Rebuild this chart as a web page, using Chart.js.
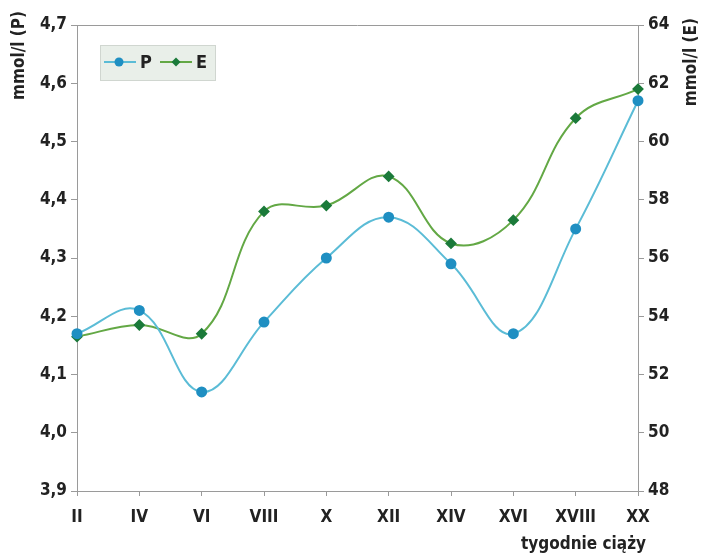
<!DOCTYPE html>
<html>
<head>
<meta charset="utf-8">
<script src="https://cdn.jsdelivr.net/npm/chart.js@4/dist/chart.umd.min.js"></script>
<style>
  html, body { margin: 0; padding: 0; background: #fff; }
  #wrap { width: 701px; height: 554px; position: relative; }
</style>
</head>
<body>
<div id="wrap"><canvas id="chart" width="701" height="554"></canvas></div>
<script>
  "use strict";

  var weeks = ['II', 'IV', 'VI', 'VIII', 'X', 'XII', 'XIV', 'XVI', 'XVIII', 'XX'];
  // P (mmol/l), lewa oś
  var valuesP = [4.17, 4.21, 4.07, 4.19, 4.30, 4.37, 4.29, 4.17, 4.35, 4.57];
  // E (mmol/l), prawa oś
  var valuesE = [53.3, 53.7, 53.4, 57.6, 57.8, 58.8, 56.5, 57.3, 60.8, 61.8];

  var FONT = "'Liberation Sans Narrow', 'DejaVu Sans Condensed', 'Arial Narrow', sans-serif";
  var colP = '#5bbcd6', ptP = '#1f8fc2';
  var colE = '#63a845', ptE = '#1b7a3a';

  // ramka, tytuły osi i legenda rysowane ręcznie
  var decor = {
    id: 'decor',
    afterDraw: function(ch) {
      var c = ch.ctx, a = ch.chartArea;
      c.save();
      c.strokeStyle = '#9a9a9a';
      c.lineWidth = 1;
      c.beginPath();
      c.moveTo(a.left, a.top + 0.5);
      c.lineTo(a.right, a.top + 0.5);
      c.stroke();

      c.fillStyle = '#222';
      c.font = 'bold 17px ' + FONT;
      c.textBaseline = 'middle';
      c.textAlign = 'right';
      c.save();
      c.translate(20, 11);
      c.rotate(-Math.PI / 2);
      c.fillText('mmol/l (P)', 0, 0);
      c.restore();
      c.save();
      c.translate(692, 18);
      c.rotate(-Math.PI / 2);
      c.fillText('mmol/l (E)', 0, 0);
      c.restore();
      c.textAlign = 'right';
      c.fillText('tygodnie ciąży', 646, 545);

      // legenda
      c.fillStyle = '#e9efe9';
      c.fillRect(100, 45, 115, 35);
      c.strokeStyle = '#d0d6d0';
      c.strokeRect(100.5, 45.5, 115, 35);
      var y = 62;
      c.lineWidth = 2;
      c.strokeStyle = colP;
      c.beginPath(); c.moveTo(104, y); c.lineTo(136, y); c.stroke();
      c.fillStyle = ptP;
      c.beginPath(); c.arc(119, y, 4.5, 0, Math.PI * 2); c.fill();
      c.strokeStyle = colE;
      c.beginPath(); c.moveTo(160, y); c.lineTo(192, y); c.stroke();
      c.fillStyle = ptE;
      c.beginPath();
      c.moveTo(176, y - 4.5); c.lineTo(180.5, y); c.lineTo(176, y + 4.5); c.lineTo(171.5, y);
      c.closePath(); c.fill();
      c.fillStyle = '#222';
      c.textAlign = 'left';
      c.font = 'bold 18px ' + FONT;
      c.fillText('P', 140, y + 1);
      c.fillText('E', 196, y + 1);
      c.restore();
    }
  };

  function comma(v) { return v.toFixed(1).replace('.', ','); }

  new Chart(document.getElementById('chart'), {
    type: 'line',
    data: {
      labels: weeks,
      datasets: [{
        label: 'P',
        data: valuesP,
        yAxisID: 'yP',
        borderColor: colP,
        borderWidth: 2,
        pointBackgroundColor: ptP,
        pointBorderColor: ptP,
        pointRadius: 4.5,
        pointStyle: 'circle',
        tension: 0.4
      }, {
        label: 'E',
        data: valuesE,
        yAxisID: 'yE',
        borderColor: colE,
        borderWidth: 2,
        pointBackgroundColor: ptE,
        pointBorderColor: ptE,
        pointRadius: 4.5,
        pointStyle: 'rectRot',
        tension: 0.4
      }]
    },
    options: {
      responsive: false,
      animation: false,
      layout: { padding: { top: 25, left: 0, right: 0, bottom: 0 } },
      plugins: { legend: { display: false }, tooltip: { enabled: false } },
      scales: {
        x: {
          offset: false,
          afterFit: function(s) { s.height = 63; },
          border: { color: '#9a9a9a' },
          grid: { drawOnChartArea: false, color: '#9a9a9a', tickLength: 5 },
          ticks: { color: '#222', padding: 11, maxRotation: 0, font: { family: FONT, size: 17, weight: 'bold' } }
        },
        yP: {
          position: 'left',
          min: 3.9, max: 4.7,
          afterFit: function(s) { s.width = 77; },
          border: { color: '#9a9a9a' },
          grid: { drawOnChartArea: false, color: '#9a9a9a', tickLength: 6 },
          ticks: { stepSize: 0.1, color: '#222', padding: 4, callback: function(v) { return comma(v); },
                   font: { family: FONT, size: 17, weight: 'bold' } }
        },
        yE: {
          position: 'right',
          min: 48, max: 64,
          afterFit: function(s) { s.width = 63; },
          border: { color: '#9a9a9a' },
          grid: { drawOnChartArea: false, color: '#9a9a9a', tickLength: 6 },
          ticks: { stepSize: 2, color: '#222', padding: 4, font: { family: FONT, size: 17, weight: 'bold' } }
        }
      }
    },
    plugins: [decor]
  });
</script>
</body>
</html>
